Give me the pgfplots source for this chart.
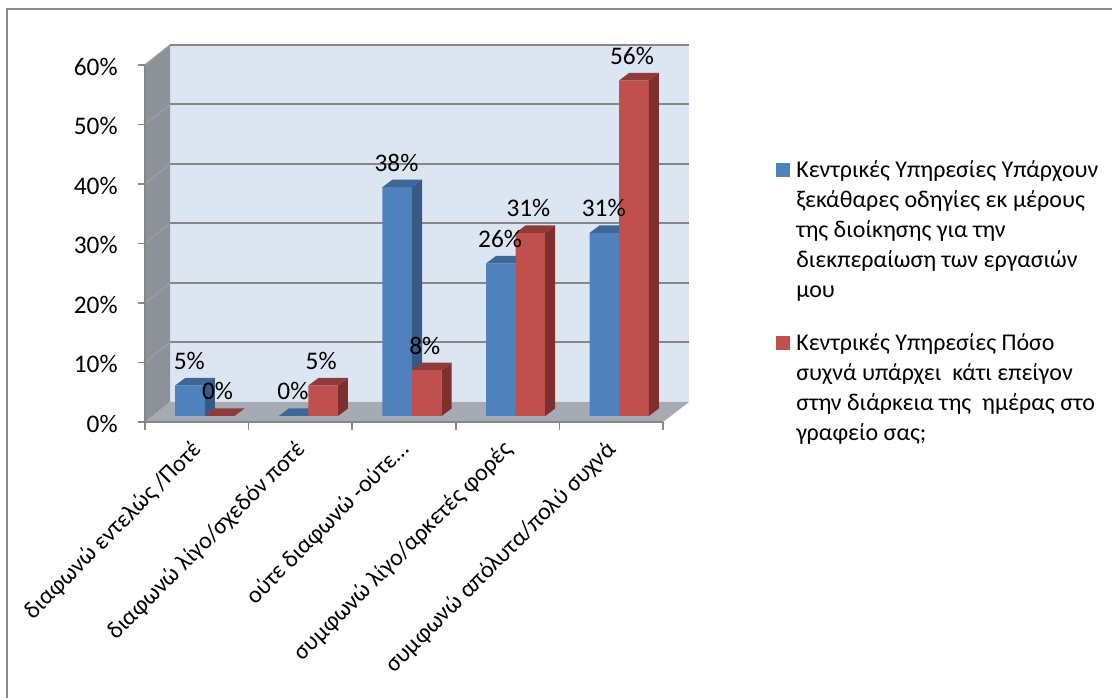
\documentclass[border=0pt]{standalone}
\usepackage{pgfplots}
\usepackage{pgfplotstable}
\usepackage{fontspec}
\pgfplotsset{compat=1.18}
\setmainfont{Carlito}

\definecolor{wallback}{HTML}{DCE6F2}
\definecolor{wallside}{HTML}{8B9299}
\definecolor{wallfloor}{HTML}{A6ABB3}
\definecolor{gridgray}{HTML}{868686}
\definecolor{framegray}{HTML}{8C8C8C}
\definecolor{bluefront}{HTML}{4F81BD}
\definecolor{blueside}{HTML}{375A84}
\definecolor{bluetop}{HTML}{3E6797}
\definecolor{redfront}{HTML}{C0504D}
\definecolor{redside}{HTML}{7D302E}
\definecolor{redtop}{HTML}{8F3B39}

% share of answers per category, in percent
\pgfplotstableread{
idx blue  red
0   5.13  0
1   0     5.13
2   38.46 7.69
3   25.64 30.77
4   30.77 56.41
}\answers

% bar geometry in data units: width, depth along x, depth along y
\def\barw{0.2857}
\def\depx{0.0965}
\def\depy{1.26}

% side and top faces of one bar: left edge, value, side colour, top colour
\newcommand{\barfaces}[4]{%
  \pgfmathsetmacro{\xa}{#1+\barw}%
  \pgfmathsetmacro{\xb}{\xa+\depx}%
  \pgfmathsetmacro{\xc}{#1+\depx}%
  \pgfmathsetmacro{\yb}{#2+\depy}%
  \addplot[forget plot,draw=none,fill=#3,xshift=6pt,yshift=4.5pt]
    coordinates {(\xa,0) (\xb,\depy) (\xb,\yb) (\xa,#2)} -- cycle;
  \addplot[forget plot,draw=none,fill=#4,xshift=6pt,yshift=4.5pt]
    coordinates {(#1,#2) (\xc,\yb) (\xb,\yb) (\xa,#2)} -- cycle;
}

\begin{document}
\begin{tikzpicture}[x=0.75pt,y=0.75pt]
\useasboundingbox (0,0) rectangle (1112,698);

% outer frame
\draw[framegray,line width=1.5pt] (6.5,0) -- (6.5,688.5) -- (1112,688.5);

% walls and floor of the box
\fill[wallback] (170,296) rectangle (689,653);
\fill[wallside] (145,276) -- (170,296) -- (170,653) -- (145,633) -- cycle;
\fill[wallfloor] (145,276) -- (663,276) -- (689,296) -- (170,296) -- cycle;

% gridlines along the back and the side wall
\foreach \k in {1,...,6}{
  \pgfmathsetmacro{\yy}{296+59.5*\k}
  \pgfmathsetmacro{\yz}{276+59.5*\k}
  \draw[gridgray,line width=1.5pt] (170,\yy) -- (689,\yy);
  \draw[gridgray!80,line width=1pt] (145,\yz) -- (170,\yy);
}

\begin{axis}[
  at={(108.75pt,207pt)},anchor=south west,
  scale only axis,width=388.5pt,height=267.75pt,
  xmin=-0.5,xmax=4.5,ymin=0,ymax=60,
  clip=false,
  axis lines*=left,
  axis line style={-,gridgray,line width=1.5pt},
  xtick={0,1,2,3,4},
  xticklabels={διαφωνώ εντελώς /Ποτέ,διαφωνώ λίγο/σχεδόν ποτέ,ούτε διαφωνώ -ούτε…,συμφωνώ λίγο/αρκετές φορές,συμφωνώ απόλυτα/πολύ συχνά},
  minor xtick={-0.5,0.5,1.5,2.5,3.5,4.5},
  ytick={0,10,...,60},
  yticklabels={0\%,10\%,20\%,30\%,40\%,50\%,60\%},
  tick align=outside,
  major tick length=5.5pt,
  minor tick length=6pt,
  xtick style={draw=none},
  minor x tick style={draw=gridgray,line width=1.1pt},
  ytick style={draw=gridgray,line width=1.1pt},
  y tick label style={font=\fontsize{19pt}{22pt}\selectfont,text=black,anchor=east,xshift=-11.5pt,yshift=-1.2pt},
  x tick label style={font=\fontsize{18pt}{22pt}\selectfont,rotate=45,anchor=north east,xshift=-4.7pt,yshift=1.7pt},
]
% blue series
\addplot[ybar,bar width=22.2pt,bar shift=-11.1pt,fill=bluefront,draw=none,xshift=6pt,yshift=4.5pt]
  table[x=idx,y=blue]{\answers};
\pgfplotsinvokeforeach{0,...,4}{
  \pgfplotstablegetelem{#1}{blue}\of\answers
  \let\val\pgfplotsretval
  \pgfmathsetmacro{\xl}{#1-\barw}
  \barfaces{\xl}{\val}{blueside}{bluetop}
}
% red series
\addplot[ybar,bar width=22.2pt,bar shift=11.1pt,fill=redfront,draw=none,xshift=6pt,yshift=4.5pt]
  table[x=idx,y=red]{\answers};
\pgfplotsinvokeforeach{0,...,4}{
  \pgfplotstablegetelem{#1}{red}\of\answers
  \let\val\pgfplotsretval
  \barfaces{#1}{\val}{redside}{redtop}
}
% value labels sit above everything else
\pgfplotsset{valuelabel/.style={forget plot,draw=none,mark=none,point meta=y,
  nodes near coords={\pgfmathprintnumber[fixed,precision=0,assume math mode=true]{\pgfplotspointmeta}\%},
  every node near coord/.style={anchor=center,text=black,inner sep=0pt,font=\fontsize{19pt}{22pt}\selectfont}}}
\addplot[valuelabel,xshift=-5.6pt,yshift=23pt] table[x=idx,y=blue]{\answers};
\addplot[valuelabel,xshift=15.6pt,yshift=23pt] table[x=idx,y=red]{\answers};
\end{axis}

% key
\fill[bluefront] (776,521) rectangle (790,535);
\node[anchor=north west,inner sep=0pt,align=left,font=\fontsize{18pt}{22.5pt}\selectfont] at (796,537.5)
  {Κεντρικές Υπηρεσίες Υπάρχουν\\ξεκάθαρες οδηγίες εκ μέρους\\της διοίκησης για την\\διεκπεραίωση των εργασιών\\μου};
\fill[redfront] (776,348) rectangle (790,362);
\node[anchor=north west,inner sep=0pt,align=left,font=\fontsize{18pt}{22.5pt}\selectfont] at (796,364.5)
  {Κεντρικές Υπηρεσίες Πόσο\\συχνά υπάρχει\ \ κάτι επείγον\\στην διάρκεια της\ \ ημέρας στο\\γραφείο σας;};
\end{tikzpicture}
\end{document}
